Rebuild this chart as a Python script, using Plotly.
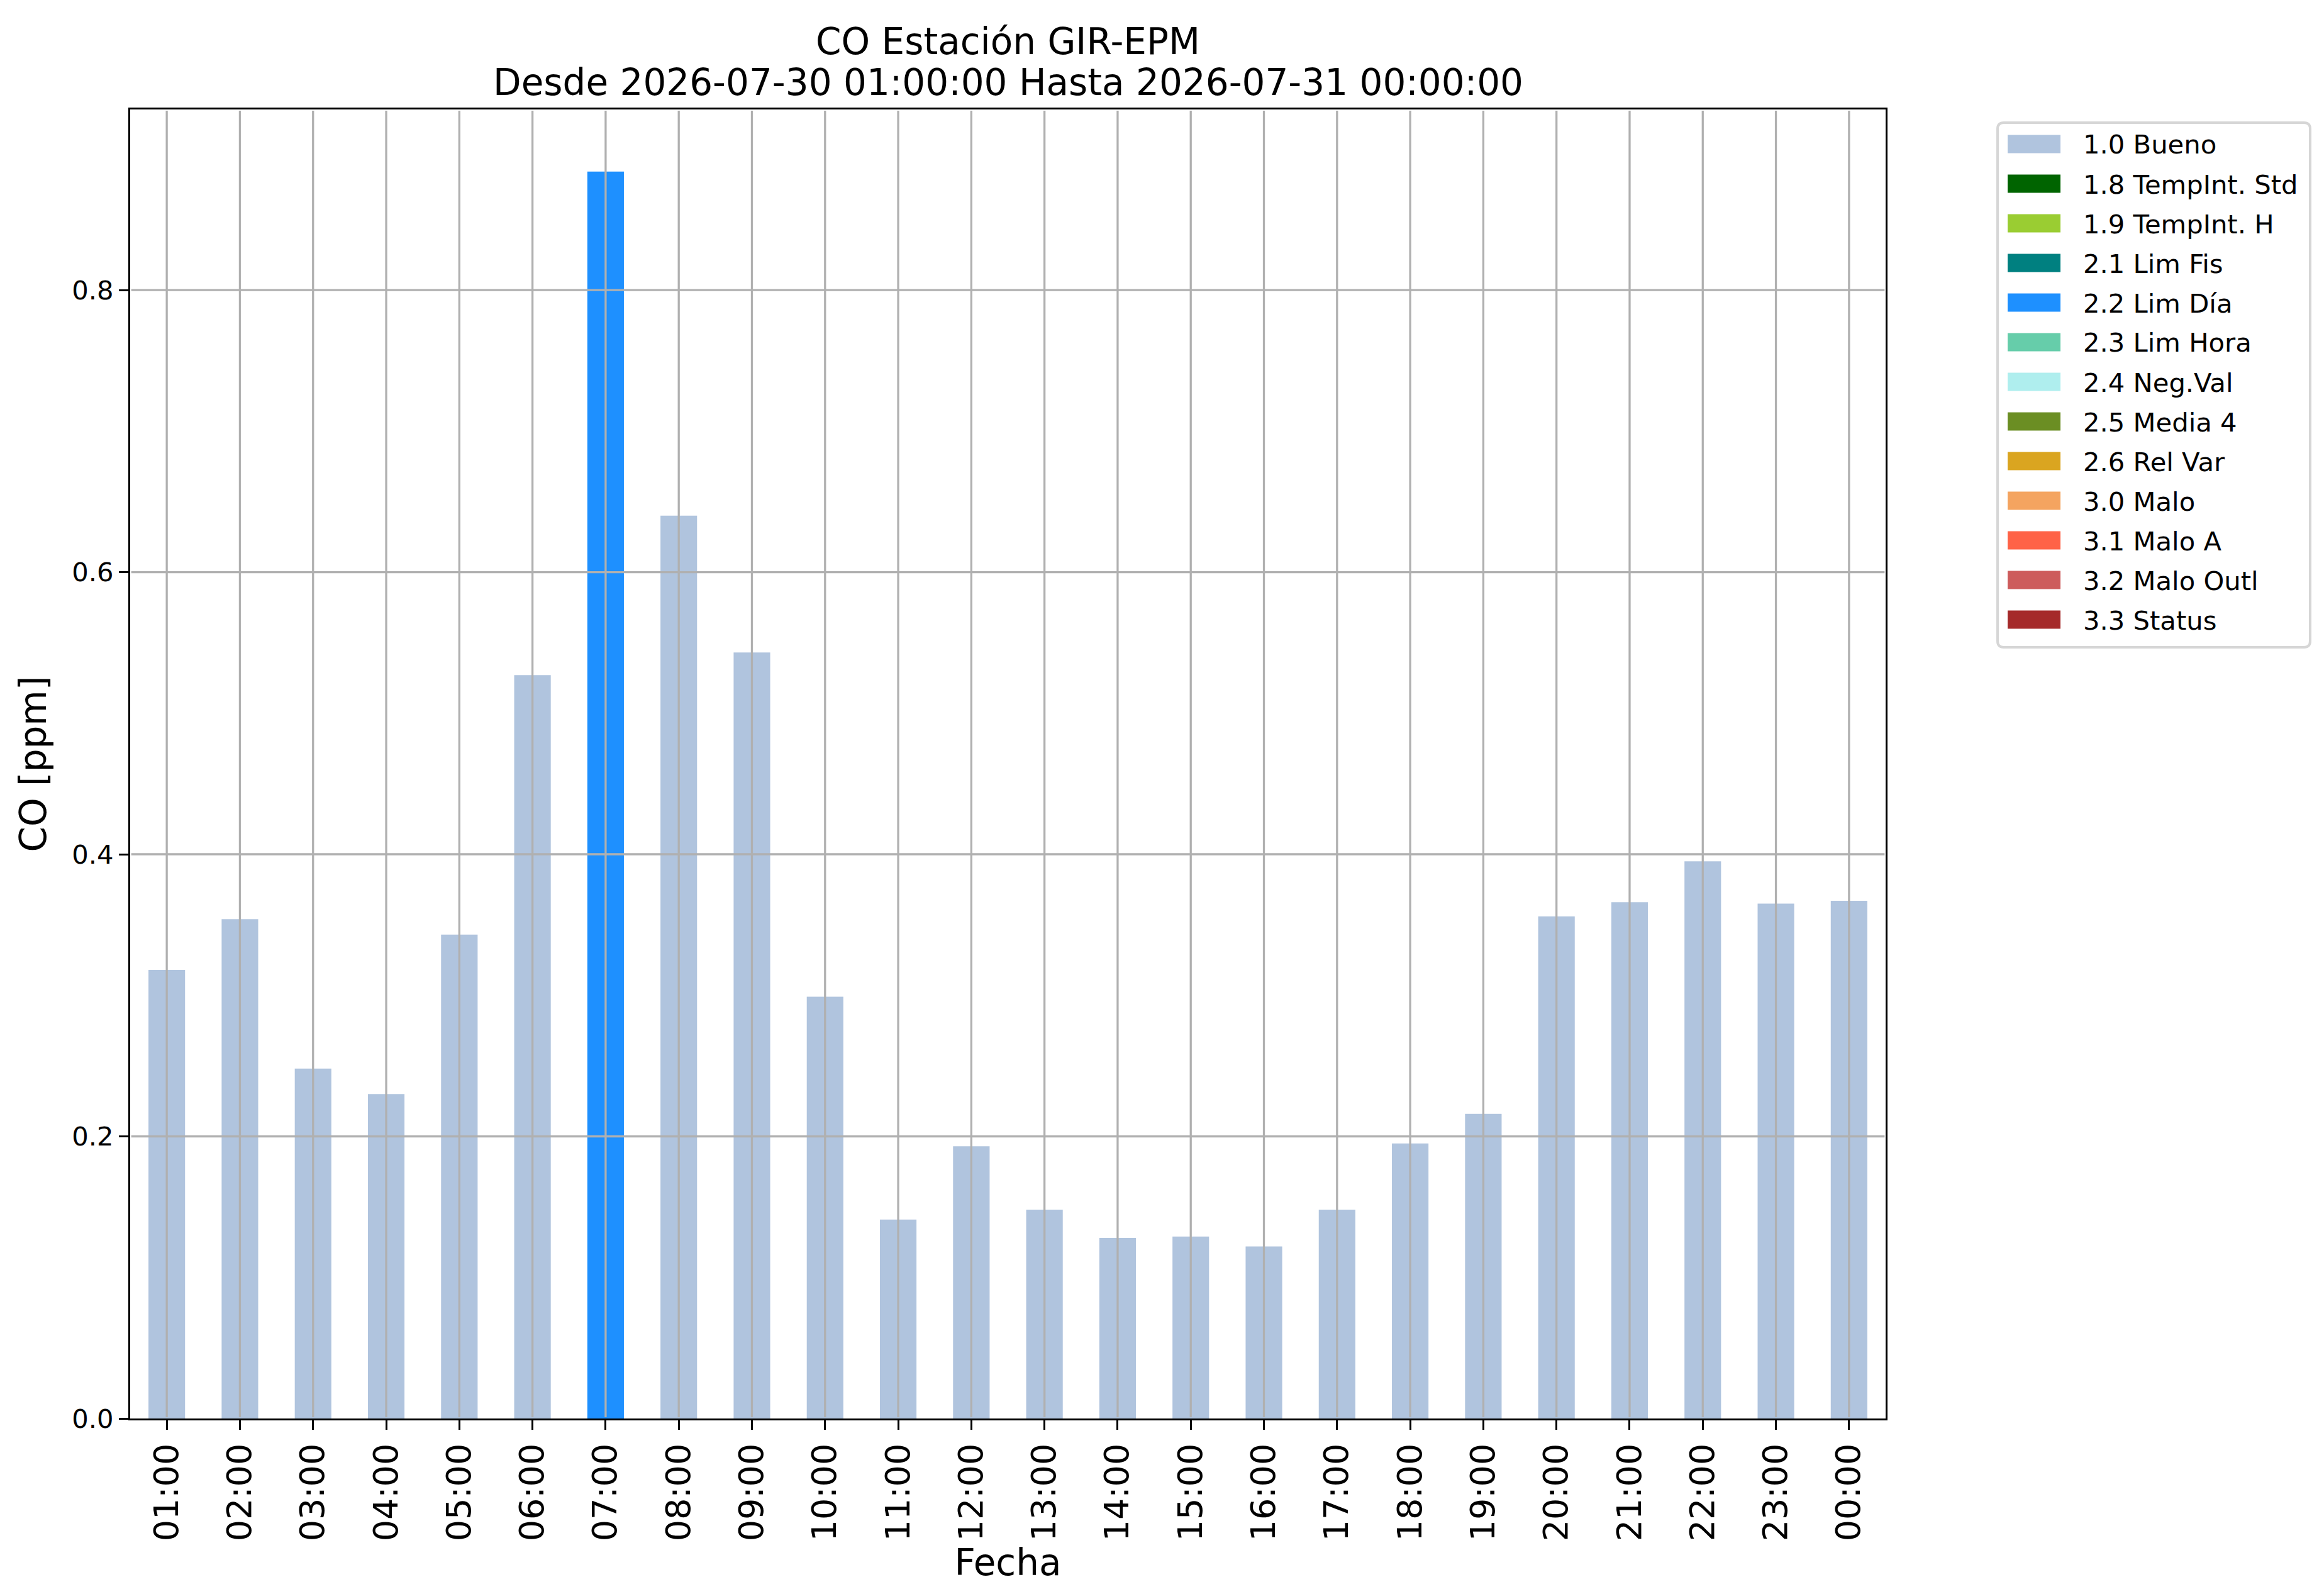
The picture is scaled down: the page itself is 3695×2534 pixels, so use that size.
import plotly.graph_objects as go

# ---------------- data ----------------
hours = ["01:00", "02:00", "03:00", "04:00", "05:00", "06:00", "07:00", "08:00",
         "09:00", "10:00", "11:00", "12:00", "13:00", "14:00", "15:00", "16:00",
         "17:00", "18:00", "19:00", "20:00", "21:00", "22:00", "23:00", "00:00"]
co_ppm = [0.318, 0.354, 0.248, 0.230, 0.343, 0.527, 0.884, 0.640,
          0.543, 0.299, 0.141, 0.193, 0.148, 0.128, 0.129, 0.122,
          0.148, 0.195, 0.216, 0.356, 0.366, 0.395, 0.365, 0.367]
flags = ["1.0", "1.0", "1.0", "1.0", "1.0", "1.0", "2.2", "1.0",
         "1.0", "1.0", "1.0", "1.0", "1.0", "1.0", "1.0", "1.0",
         "1.0", "1.0", "1.0", "1.0", "1.0", "1.0", "1.0", "1.0"]
flag_codes = ["1.0", "1.8", "1.9", "2.1", "2.2", "2.3", "2.4", "2.5", "2.6",
              "3.0", "3.1", "3.2", "3.3"]
flag_names = ["1.0 Bueno", "1.8 TempInt. Std", "1.9 TempInt. H", "2.1 Lim Fis",
              "2.2 Lim Día", "2.3 Lim Hora", "2.4 Neg.Val", "2.5 Media 4",
              "2.6 Rel Var", "3.0 Malo", "3.1 Malo A", "3.2 Malo Outl", "3.3 Status"]
flag_colors = ["#B0C4DE", "#006400", "#9ACD32", "#008080", "#1E90FF", "#66CDAA",
               "#AFEEEE", "#6B8E23", "#DAA520", "#F4A460", "#FF6347", "#CD5C5C",
               "#A52A2A"]
y_ticks = [0.0, 0.2, 0.4, 0.6, 0.8]
y_max = 0.928
title_line1 = "CO Estación GIR-EPM"
title_line2 = "Desde 2026-07-30 01:00:00 Hasta 2026-07-31 00:00:00"

# ---------------- geometry (pixels) ----------------
W, H = 3695, 2534
L, R, T, B = 199, 2990, 166, 2247
PW, PH = R - L, B - T
FONT = "DejaVu Sans"


def px_x(p):
    return (p - L) / PW


def px_y(p):
    return (B - p) / PH


fig = go.Figure()
for code, name, color in zip(flag_codes, flag_names, flag_colors):
    vals = [v if f == code else None for v, f in zip(co_ppm, flags)]
    fig.add_trace(go.Bar(x=hours, y=vals, name=name, marker_color=color,
                         marker_line_width=0, width=0.5, showlegend=False))

shapes = []
# grid lines on top of bars (as in the reference)
grid_style = dict(color="#b0b0b0", width=3.3)
for h in hours:
    shapes.append(dict(type="line", xref="x", yref="paper", x0=h, x1=h,
                       y0=0.001, y1=0.999, line=grid_style, layer="above"))
for yv in y_ticks[1:]:
    shapes.append(dict(type="line", xref="paper", yref="y", x0=0.0006, x1=0.9994,
                       y0=yv, y1=yv, line=grid_style, layer="above"))

# legend box (rounded)
bx0, bx1, by0, by1 = 3168, 3665, 187, 1021
rad = 10
X0, X1 = px_x(bx0), px_x(bx1)
Y0, Y1 = px_y(by1), px_y(by0)
rx, ry = rad / PW, rad / PH
path = (f"M {X0+rx},{Y1} L {X1-rx},{Y1} Q {X1},{Y1} {X1},{Y1-ry} "
        f"L {X1},{Y0+ry} Q {X1},{Y0} {X1-rx},{Y0} L {X0+rx},{Y0} "
        f"Q {X0},{Y0} {X0},{Y0+ry} L {X0},{Y1-ry} Q {X0},{Y1} {X0+rx},{Y1} Z")
shapes.append(dict(type="path", xref="paper", yref="paper", path=path,
                   fillcolor="rgba(255,255,255,0.8)",
                   line=dict(color="#d6d6d6", width=4), layer="above"))

annotations = []
row0, pitch = 221, 63
for i, (name, color) in enumerate(zip(flag_names, flag_colors)):
    cy = row0 + pitch * i
    shapes.append(dict(type="rect", xref="paper", yref="paper",
                       x0=px_x(3184), x1=px_x(3268),
                       y0=px_y(cy + 14.5), y1=px_y(cy - 14.5),
                       fillcolor=color, line=dict(width=0), layer="above"))
    annotations.append(dict(text=name, xref="paper", yref="paper",
                            x=px_x(3302), y=px_y(cy + 1), xanchor="left",
                            yanchor="middle", showarrow=False,
                            font=dict(family=FONT, size=41.7, color="black")))

# title lines
annotations.append(dict(text=title_line1, xref="paper", yref="paper", x=0.5,
                        y=px_y(58), xanchor="center", yanchor="middle",
                        showarrow=False, font=dict(family=FONT, size=58, color="black")))
annotations.append(dict(text=title_line2, xref="paper", yref="paper", x=0.5,
                        y=px_y(123), xanchor="center", yanchor="middle",
                        showarrow=False, font=dict(family=FONT, size=58, color="black")))

axis_common = dict(showline=True, linecolor="black", linewidth=3.3, mirror=True,
                   ticks="outside", ticklen=15, tickwidth=3.3, tickcolor="black",
                   showgrid=False, zeroline=False)

fig.update_layout(
    width=W, height=H,
    margin=dict(l=L, r=W - R, t=T, b=H - B, autoexpand=False),
    paper_bgcolor="white", plot_bgcolor="white",
    barmode="overlay", showlegend=False,
    font=dict(family=FONT, color="black"),
    shapes=shapes, annotations=annotations,
    xaxis=dict(type="category", categoryorder="array", categoryarray=hours,
               range=[-0.5, len(hours) - 0.5], tickangle=-90,
               tickfont=dict(family=FONT, size=54, color="black"),
               title=dict(text="Fecha", font=dict(family=FONT, size=58, color="black"),
                          standoff=15),
               **axis_common),
    yaxis=dict(range=[0, y_max], tickvals=y_ticks, tickformat=".1f",
               tickfont=dict(family=FONT, size=41.7, color="black"),
               title=dict(text="CO [ppm]", font=dict(family=FONT, size=58, color="black"),
                          standoff=22),
               **axis_common),
)

fig.write_html("out.html")
